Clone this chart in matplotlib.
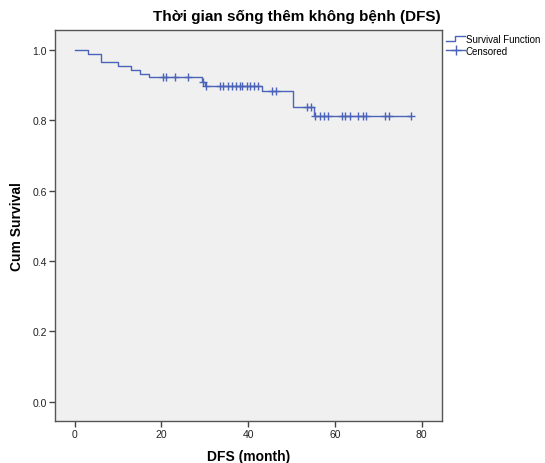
import matplotlib
matplotlib.use("Agg")
import matplotlib.pyplot as plt
import numpy as np
from matplotlib.lines import Line2D
from matplotlib.legend_handler import HandlerBase

plt.rcParams['font.family'] = ['Liberation Sans', 'DejaVu Sans']

# Kaplan-Meier step data
step_times = [0, 3.1, 6.1, 10.1, 13.1, 15.1, 17.1, 29.3, 30.1, 43.3, 50.4, 55.2]
step_surv = [1.0, 0.989, 0.967, 0.956, 0.944, 0.933, 0.922, 0.910, 0.897, 0.883, 0.838, 0.812]
end_time = 77.6
censor_times = [20.4, 21.1, 23.2, 26.2, 29.6, 30.3, 33.4, 34.3, 35.3, 36.2, 37.1, 38.1,
                38.6, 39.7, 40.5, 41.4, 42.3, 45.5, 46.4, 53.6, 54.4, 55.4, 56.6, 57.6,
                58.5, 61.6, 62.3, 63.4, 65.4, 66.4, 67.3, 71.6, 72.5, 77.6]

title = "Thời gian sống thêm không bệnh (DFS)"
xlabel = "DFS (month)"
ylabel = "Cum Survival"
xticks = [0, 20, 40, 60, 80]
yticks = [0.0, 0.2, 0.4, 0.6, 0.8, 1.0]

color = '#4b63b8'
W, H = 545, 464
fig = plt.figure(figsize=(W / 100, H / 100), dpi=100)
ax = fig.add_axes([55.3 / W, 1 - 421.7 / H, (441.5 - 55.3) / W, (421.7 - 31) / H])
ax.set_facecolor('#f0f0f0')

xs = list(step_times) + [end_time]
ys = list(step_surv) + [step_surv[-1]]
ax.step(xs, ys, where='post', color=color, lw=1.0)

def surv_at(t):
    idx = np.searchsorted(step_times, t, side='right') - 1
    return step_surv[idx]

cy = [surv_at(t) for t in censor_times]
ax.plot(censor_times, cy, linestyle='none', marker='+', color=color, ms=6, mew=1.0)

ax.set_xlim(-4.47, 84.6)
ax.set_ylim(-0.054, 1.057)
ax.set_xticks(xticks)
ax.set_xticklabels([str(v) for v in xticks])
ax.set_yticks(yticks)
ax.set_yticklabels([f"{v:.1f}" for v in yticks])
ax.tick_params(direction='out', length=4, width=1, color='#444444', labelsize=7.5,
               labelcolor='#222222', pad=2)
for s in ax.spines.values():
    s.set_color('#555555')
    s.set_linewidth(1)

ax.set_xlabel(xlabel, fontsize=10, fontweight='bold', labelpad=7)
ax.set_ylabel(ylabel, fontsize=10, fontweight='bold', labelpad=6)

fig.text(297 / W, 1 - 17 / H, title, ha='center', va='center', fontsize=11, fontweight='bold')


class StepHandler(HandlerBase):
    def create_artists(self, legend, orig_handle, xdescent, ydescent, width, height, fontsize, trans):
        x0 = -xdescent
        y0 = -ydescent
        px = [x0, x0 + width * 0.45, x0 + width * 0.45, x0 + width]
        py = [y0 + height * 0.15, y0 + height * 0.15, y0 + height * 0.85, y0 + height * 0.85]
        ln = Line2D(px, py, color=color, lw=1.0, transform=trans)
        return [ln]


class CensorHandler(HandlerBase):
    def create_artists(self, legend, orig_handle, xdescent, ydescent, width, height, fontsize, trans):
        x0 = -xdescent
        y0 = -ydescent
        ln = Line2D([x0, x0 + width], [y0 + height / 2] * 2, color=color, lw=1.0, transform=trans)
        mk = Line2D([x0 + width / 2], [y0 + height / 2], marker='+', ms=7, mew=1.0,
                    color=color, linestyle='none', transform=trans)
        return [ln, mk]


class H1: pass
class H2: pass

leg = ax.legend([H1(), H2()], ["Survival Function", "Censored"],
                handler_map={H1: StepHandler(), H2: CensorHandler()},
                loc='upper left', bbox_to_anchor=(1.0, 1.002), frameon=False,
                fontsize=7, handlelength=1.9, handletextpad=0.1, labelspacing=0.15,
                borderaxespad=0.3, borderpad=0.2)

fig.savefig('out.png', dpi=100)
